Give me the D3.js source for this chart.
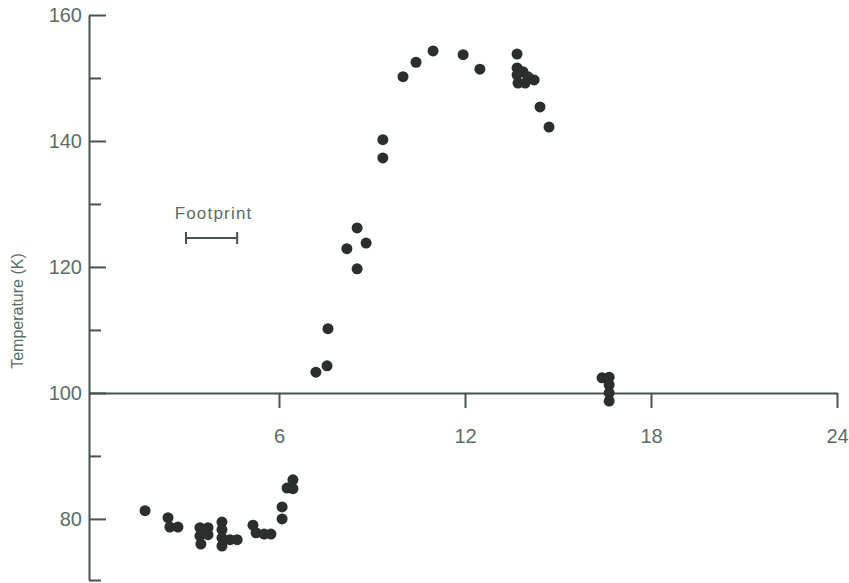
<!DOCTYPE html>
<html>
<head>
<meta charset="utf-8">
<script src="https://cdn.jsdelivr.net/npm/d3@7"></script>
<style>
  html, body { margin: 0; padding: 0; background: #ffffff; }
  svg { display: block; }
  text { font-family: "Liberation Sans", Arial, Helvetica, sans-serif; }
</style>
</head>
<body>
<svg id="chart" width="849" height="583"></svg>
<script>
// ---- data ----
const distance = [
  1.68, 2.42, 2.48, 2.74, 3.45, 3.71, 3.45, 3.71, 3.48,
  4.16, 4.16, 4.16, 4.42, 4.65, 4.16, 5.16, 5.26, 5.52, 5.74,
  6.10, 6.10, 6.26, 6.45, 6.45,
  7.19, 7.55, 7.58, 8.19, 8.52, 8.81, 8.52, 9.35, 9.35,
  10.00, 10.42, 10.97, 11.94, 12.48,
  13.68, 13.68, 13.68, 13.87, 14.03, 14.23, 13.71, 13.94, 14.42, 14.71,
  16.42, 16.65, 16.65, 16.65, 16.65
];
const temperature = [
  81.3, 80.2, 78.7, 78.7, 78.6, 78.6, 77.3, 77.5, 76.0,
  79.5, 78.3, 77.0, 76.7, 76.7, 75.7, 79.0, 77.8, 77.6, 77.6,
  81.9, 80.0, 84.9, 86.2, 84.8,
  103.3, 104.3, 110.2, 122.9, 126.2, 123.8, 119.7, 140.2, 137.3,
  150.2, 152.5, 154.3, 153.7, 151.4,
  153.8, 151.6, 150.5, 151.0, 150.2, 149.7, 149.2, 149.2, 145.4, 142.2,
  102.4, 102.5, 101.3, 100.0, 98.7
];
const xTickValues = [6, 12, 18, 24];
const yMajorTicks = [160, 140, 120, 100, 80];
const yMinorTicks = [150, 130, 110, 90, 70.3];
const footprint = { start: 3.0, end: 4.65, temp: 124.6, label: "Footprint" };
const yLabel = "Temperature (K)";

// ---- styling ----
const axisColor = "#47534e";
const textColor = "#5d6c66";
const dotColor = "#2a2f2d";

const svg = d3.select("#chart");

const x = d3.scaleLinear().domain([-4 / 31, 24]).range([89, 837]);
const y = d3.scaleLinear().domain([70.3, 160]).range([580, 15]);

// Y axis (major)
const yAxisMajor = d3.axisLeft(y)
  .tickValues(yMajorTicks)
  .tickFormat(d3.format("d"))
  .tickSizeInner(-17)
  .tickSizeOuter(0)
  .tickPadding(7);
const gy = svg.append("g").attr("transform", `translate(${x(x.domain()[0])},0)`).call(yAxisMajor);
gy.select(".domain").attr("stroke", axisColor).attr("stroke-width", 2);
gy.selectAll(".tick line").attr("stroke", axisColor).attr("stroke-width", 2);
gy.selectAll(".tick text").attr("fill", textColor).attr("font-size", 20);

// Y axis (minor)
const yAxisMinor = d3.axisLeft(y)
  .tickValues(yMinorTicks)
  .tickFormat("")
  .tickSizeInner(-12)
  .tickSizeOuter(0);
const gy2 = svg.append("g").attr("transform", `translate(${x(x.domain()[0])},0)`).call(yAxisMinor);
gy2.select(".domain").remove();
gy2.selectAll(".tick line").attr("stroke", axisColor).attr("stroke-width", 2);

// X axis at T = 100
const xAxis = d3.axisBottom(x)
  .tickValues(xTickValues)
  .tickFormat(d3.format("d"))
  .tickSizeInner(15)
  .tickSizeOuter(0)
  .tickPadding(21);
const gx = svg.append("g").attr("transform", `translate(0,${y(100)})`).call(xAxis);
gx.select(".domain").attr("stroke", axisColor).attr("stroke-width", 2);
gx.selectAll(".tick line").attr("stroke", axisColor).attr("stroke-width", 2);
gx.selectAll(".tick text").attr("fill", textColor).attr("font-size", 20);

// Y label
svg.append("text")
  .attr("transform", `translate(23,${y(113)}) rotate(-90)`)
  .attr("text-anchor", "middle")
  .attr("fill", textColor)
  .attr("font-size", 16)
  .text(yLabel);

// Footprint scale bar
const fy = y(footprint.temp);
const fg = svg.append("g").attr("stroke", axisColor).attr("stroke-width", 2);
fg.append("line").attr("x1", x(footprint.start)).attr("x2", x(footprint.end)).attr("y1", fy).attr("y2", fy);
fg.append("line").attr("x1", x(footprint.start)).attr("x2", x(footprint.start)).attr("y1", fy - 6).attr("y2", fy + 6);
fg.append("line").attr("x1", x(footprint.end)).attr("x2", x(footprint.end)).attr("y1", fy - 6).attr("y2", fy + 6);
svg.append("text")
  .attr("x", (x(footprint.start) + x(footprint.end)) / 2 + 2)
  .attr("y", fy - 19)
  .attr("text-anchor", "middle")
  .attr("fill", textColor)
  .attr("font-size", 17)
  .attr("letter-spacing", 1.2)
  .text(footprint.label);

// Points
svg.append("g").selectAll("circle")
  .data(distance.map((d, i) => ({ d, t: temperature[i] })))
  .join("circle")
  .attr("cx", p => x(p.d))
  .attr("cy", p => y(p.t))
  .attr("r", 5.5)
  .attr("fill", dotColor);
</script>
</body>
</html>
